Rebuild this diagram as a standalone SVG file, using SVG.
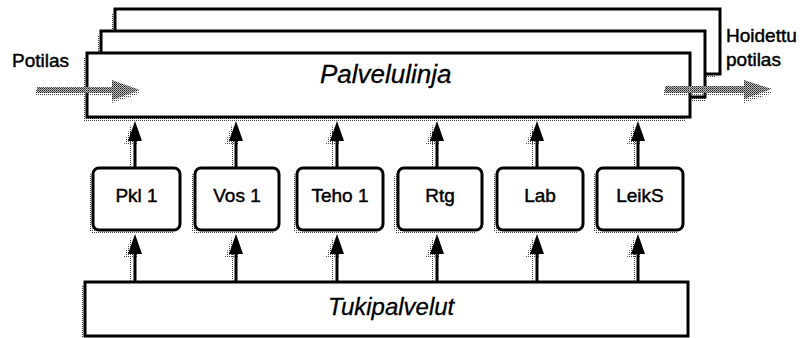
<svg xmlns="http://www.w3.org/2000/svg" width="800" height="338" viewBox="0 0 800 338">
<defs>
  <pattern id="dots" width="2" height="2" patternUnits="userSpaceOnUse">
    <rect x="0" y="0" width="1" height="1" fill="#444"/>
  </pattern>
  <pattern id="dither" width="2" height="2" patternUnits="userSpaceOnUse">
    <rect x="0" y="0" width="2" height="2" fill="#bbbbbb"/>
    <rect x="0" y="0" width="1" height="1" fill="#222"/>
    <rect x="1" y="1" width="1" height="1" fill="#555"/>
  </pattern>
  <marker id="ah" viewBox="0 0 20 14" refX="12" refY="7" markerWidth="20" markerHeight="14" markerUnits="userSpaceOnUse" orient="auto">
    <path d="M0,0 L20,7 L0,14 z" fill="#000"/>
  </marker>
  <marker id="ahs" viewBox="0 0 20 14" refX="12" refY="7" markerWidth="20" markerHeight="14" markerUnits="userSpaceOnUse" orient="auto">
    <path d="M0,0 L20,7 L0,14 z" fill="url(#dots)"/>
  </marker>
</defs>
<style>
  .shadow { fill: url(#dots); stroke: none; }
  .layer { fill: #fff; stroke: #000; stroke-width: 3; }
  .box { fill: #fff; stroke: #000; stroke-width: 3; }
  .lbl { font-family: "Liberation Sans", Arial, sans-serif; font-size: 19px; fill: #000; stroke: #000; stroke-width: 0.45; }
  .big { font-family: "Liberation Sans", Arial, sans-serif; font-style: italic; fill: #000; stroke: #000; stroke-width: 0.3; }
  .conn { stroke: #000; stroke-width: 3; fill: none; marker-end: url(#ah); }
  .conns { stroke: url(#dots); stroke-width: 2; fill: none; marker-end: url(#ahs); }
  .grey { fill: url(#dither); }
  .greys { fill: url(#dots); }
</style>

<g id="layer-back">
  <rect class="shadow" x="111" y="13" width="605" height="65"/>
  <rect class="layer" x="115" y="9" width="605" height="65"/>
</g>
<g id="layer-middle">
  <rect class="shadow" x="97" y="35" width="608" height="66"/>
  <rect class="layer" x="101" y="31" width="604" height="66"/>
</g>
<g id="palvelulinja">
  <rect class="shadow" x="83" y="57" width="603" height="64"/>
  <rect class="layer" x="87" y="53" width="603" height="64"/>
  <text class="big" x="320" y="83" font-size="26">Palvelulinja</text>
</g>

<g id="pkl1">
  <rect class="shadow" x="89" y="172" width="87" height="62" rx="6"/>
  <rect class="box" x="93" y="168" width="87" height="62" rx="6"/>
  <text class="lbl" x="136.5" y="202" text-anchor="middle">Pkl 1</text>
</g>
<g id="vos1">
  <rect class="shadow" x="191" y="172" width="84" height="62" rx="6"/>
  <rect class="box" x="195" y="168" width="84" height="62" rx="6"/>
  <text class="lbl" x="237" y="202" text-anchor="middle">Vos 1</text>
</g>
<g id="teho1">
  <rect class="shadow" x="293" y="172" width="86" height="62" rx="6"/>
  <rect class="box" x="297" y="168" width="86" height="62" rx="6"/>
  <text class="lbl" x="340" y="202" text-anchor="middle">Teho 1</text>
</g>
<g id="rtg">
  <rect class="shadow" x="394" y="172" width="84" height="62" rx="6"/>
  <rect class="box" x="398" y="168" width="84" height="62" rx="6"/>
  <text class="lbl" x="440" y="202" text-anchor="middle">Rtg</text>
</g>
<g id="lab">
  <rect class="shadow" x="493" y="172" width="86" height="62" rx="6"/>
  <rect class="box" x="497" y="168" width="86" height="62" rx="6"/>
  <text class="lbl" x="540" y="202" text-anchor="middle">Lab</text>
</g>
<g id="leiks">
  <rect class="shadow" x="593" y="172" width="86" height="62" rx="6"/>
  <rect class="box" x="597" y="168" width="86" height="62" rx="6"/>
  <text class="lbl" x="640" y="202" text-anchor="middle">LeikS</text>
</g>

<g id="tukipalvelut">
  <rect class="shadow" x="81" y="286" width="607" height="56"/>
  <rect class="layer" x="85" y="282" width="603" height="54"/>
  <text class="big" x="328" y="315" font-size="24">Tukipalvelut</text>
</g>

<g id="potilas-label">
  <text class="lbl" x="12" y="67">Potilas</text>
</g>
<g id="hoidettu-label">
  <text class="lbl" x="726" y="42">Hoidettu</text>
  <text class="lbl" x="726" y="66">potilas</text>
</g>

<g id="connectors">
  <line class="conns" x1="131" y1="168" x2="131" y2="132"/>
  <line class="conns" x1="232" y1="168" x2="232" y2="132"/>
  <line class="conns" x1="333" y1="168" x2="333" y2="132"/>
  <line class="conns" x1="433" y1="168" x2="433" y2="132"/>
  <line class="conns" x1="533" y1="168" x2="533" y2="132"/>
  <line class="conns" x1="634" y1="168" x2="634" y2="132"/>
  <line class="conns" x1="131" y1="282" x2="131" y2="245"/>
  <line class="conns" x1="232" y1="282" x2="232" y2="245"/>
  <line class="conns" x1="333" y1="282" x2="333" y2="245"/>
  <line class="conns" x1="433" y1="282" x2="433" y2="245"/>
  <line class="conns" x1="533" y1="282" x2="533" y2="245"/>
  <line class="conns" x1="634" y1="282" x2="634" y2="245"/>
  <line class="conn" x1="135" y1="168" x2="135" y2="129"/>
  <line class="conn" x1="236" y1="168" x2="236" y2="129"/>
  <line class="conn" x1="337" y1="168" x2="337" y2="129"/>
  <line class="conn" x1="437" y1="168" x2="437" y2="129"/>
  <line class="conn" x1="537" y1="168" x2="537" y2="129"/>
  <line class="conn" x1="638" y1="168" x2="638" y2="129"/>
  <line class="conn" x1="135" y1="282" x2="135" y2="242"/>
  <line class="conn" x1="236" y1="282" x2="236" y2="242"/>
  <line class="conn" x1="337" y1="282" x2="337" y2="242"/>
  <line class="conn" x1="437" y1="282" x2="437" y2="242"/>
  <line class="conn" x1="537" y1="282" x2="537" y2="242"/>
  <line class="conn" x1="638" y1="282" x2="638" y2="242"/>
  <polygon class="greys" points="35,90 112,90 112,83 141,93 112,103 112,96 35,96"/>
  <polygon class="grey" points="37,87 112,87 112,80 140,90 112,100 112,93 37,93"/>
  <polygon class="greys" points="663,90 744,90 744,83 773,93 744,103 744,96 663,96"/>
  <polygon class="grey" points="665,86 744,86 744,80 772,89 744,99 744,93 665,93"/>
</g>
</svg>
